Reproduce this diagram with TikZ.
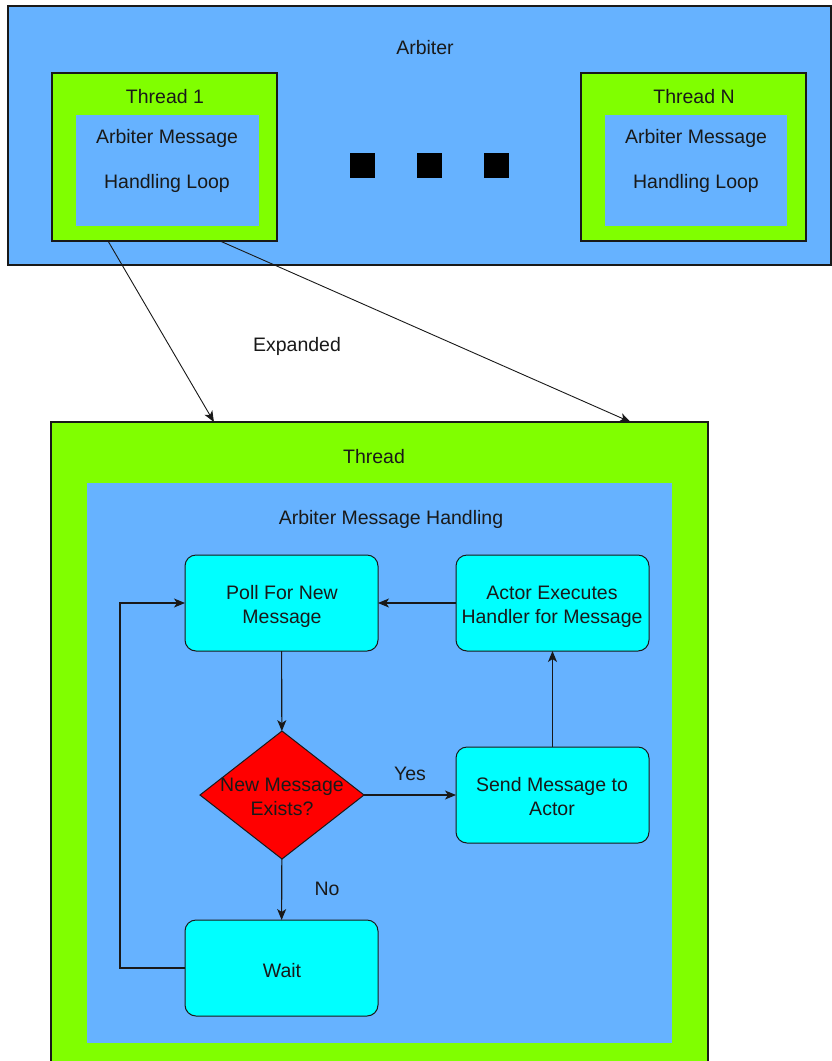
\documentclass[tikz,border=0pt]{standalone}
\usepackage{fontspec}
\setmainfont{Liberation Sans}
\usetikzlibrary{shapes.geometric,arrows.meta,calc}
\definecolor{arbblue}{RGB}{102,178,255}
\definecolor{thgreen}{RGB}{128,255,0}
\definecolor{procyan}{RGB}{0,255,255}
\definecolor{decred}{RGB}{255,0,0}
\definecolor{inkc}{RGB}{25,25,25}
\begin{document}
\begin{tikzpicture}[x=1pt,y=-1pt,
  every node/.style={inner sep=0pt,outer sep=0pt},
  box/.style={anchor=north west,draw=inkc,line width=1.2pt},
  inbox/.style={anchor=north west,fill=arbblue,draw=none},
  proc/.style={anchor=north west,draw=inkc,line width=1pt,fill=procyan,rounded corners=11pt,minimum width=193pt,minimum height=96pt},
  sq/.style={anchor=north west,fill=black,minimum width=25pt,minimum height=25pt},
  lbl/.style={anchor=base,font=\fontsize{19.5}{24}\selectfont,text=inkc},
  arr/.style={draw=inkc,line width=1.1pt,-{Stealth[length=11pt,width=9pt,inset=3pt]}},
  thinarr/.style={draw=inkc,line width=0.9pt,-{Stealth[length=11pt,width=9pt,inset=3pt]}}]
\useasboundingbox (0,0) rectangle (832,1061);
\clip (0,0) rectangle (832,1061);
\fill[white] (0,0) rectangle (832,1061);

% Arbiter container
\node[box,fill=arbblue,minimum width=823pt,minimum height=259pt] (arbiter) at (8,6) {};
\node[lbl] (arbiterlbl) at (425,54) {Arbiter};

% Thread 1
\node[box,fill=thgreen,minimum width=225pt,minimum height=168pt] (t1) at (52,73) {};
\node[inbox,minimum width=183pt,minimum height=111pt] (t1in) at (76,115) {};
\node[lbl] (t1lbl) at (165,103) {Thread 1};
\node[lbl] (t1a) at (167,143) {Arbiter Message};
\node[lbl] (t1b) at (167,188) {Handling Loop};

% Thread N
\node[box,fill=thgreen,minimum width=225pt,minimum height=168pt] (tN) at (581,73) {};
\node[inbox,minimum width=182pt,minimum height=111pt] (tNin) at (605,115) {};
\node[lbl] (tNlbl) at (694,103) {Thread N};
\node[lbl] (tNa) at (696,143) {Arbiter Message};
\node[lbl] (tNb) at (696,188) {Handling Loop};

% ellipsis squares
\node[sq] (sq1) at (350,153) {};
\node[sq] (sq2) at (417,153) {};
\node[sq] (sq3) at (484,153) {};

% Expanded thread
\node[box,fill=thgreen,minimum width=657pt,minimum height=700pt] (thread) at (51,422) {};
\node[inbox,minimum width=585pt,minimum height=560pt] (amh) at (87,483) {};
\node[lbl] (threadlbl) at (374,463) {Thread};
\node[lbl] (amhlbl) at (391,524) {Arbiter Message Handling};

\node[lbl] (expanded) at (297,351) {Expanded};
\draw[thinarr] ($(t1.south west)!0.249!(t1.south east)$) -- ($(thread.north west)!0.248!(thread.north east)$);
\draw[thinarr] ($(t1.south west)!0.747!(t1.south east)$) -- ($(thread.north west)!0.882!(thread.north east)$);

% flowchart
\node[proc] (poll) at (185,555) {};
\node[lbl] (pollA) at (282,599) {Poll For New};
\node[lbl] (pollB) at (282,623) {Message};

\node[proc] (actor) at (456,555) {};
\node[lbl] (actorA) at (552,599) {Actor Executes};
\node[lbl] (actorB) at (552,623) {Handler for Message};

\node[diamond,draw=inkc,line width=1pt,fill=decred,minimum width=164pt,minimum height=128pt] (dec) at (282,795) {};
\node[lbl] (decA) at (282,791) {New Message};
\node[lbl] (decB) at (282,815) {Exists?};

\node[proc] (send) at (456,747) {};
\node[lbl] (sendA) at (552,791) {Send Message to};
\node[lbl] (sendB) at (552,815) {Actor};

\node[proc] (wait) at (185,920) {};
\node[lbl] (waitlbl) at (282,977) {Wait};

\draw[arr] (poll) -- (dec);
\draw[arr] (dec) -- (send);
\node[lbl] (yes) at (410,780) {Yes};
\draw[arr] (dec) -- (wait);
\node[lbl] (no) at (327,895) {No};
\draw[arr] (send) -- (actor);
\draw[arr] (actor) -- (poll);
\draw[arr] (wait.west) -- ++(-65,0) |- (poll.west);
\end{tikzpicture}
\end{document}
